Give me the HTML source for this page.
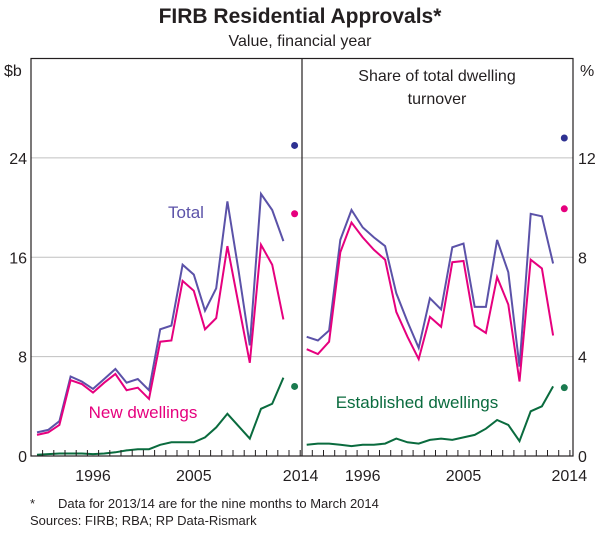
<!DOCTYPE html>
<html><head><meta charset="utf-8"><style>
body{margin:0;background:#fff;font-family:"Liberation Sans",sans-serif}
svg text{font-family:"Liberation Sans",sans-serif}
</style></head><body>
<script>
var years=[1991,1992,1993,1994,1995,1996,1997,1998,1999,2000,2001,2002,2003,2004,2005,2006,2007,2008,2009,2010,2011,2012,2013];
var valTotal=[1.9,2.1,2.8,6.4,6.0,5.4,6.2,7.0,5.9,6.2,5.3,10.2,10.5,15.4,14.6,11.7,13.5,20.5,14.9,8.9,21.1,19.8,17.3];
var valNew=[1.7,1.9,2.5,6.1,5.8,5.1,5.9,6.6,5.3,5.5,4.6,9.2,9.3,14.1,13.3,10.2,11.1,16.9,12.2,7.5,17.0,15.4,11.0];
var valEst=[0.1,0.15,0.2,0.2,0.2,0.15,0.2,0.3,0.45,0.55,0.55,0.9,1.1,1.1,1.1,1.5,2.3,3.4,2.4,1.4,3.8,4.2,6.3];
var shrTotal=[4.8,4.65,5.05,8.7,9.9,9.2,8.8,8.45,6.55,5.4,4.35,6.35,5.9,8.4,8.55,6.0,6.0,8.7,7.4,3.6,9.75,9.65,7.75];
var shrNew=[4.3,4.1,4.6,8.2,9.4,8.8,8.3,7.9,5.8,4.8,3.9,5.6,5.2,7.8,7.85,5.25,4.95,7.2,6.1,3.0,7.9,7.55,4.85];
var shrEst=[0.45,0.5,0.5,0.45,0.4,0.45,0.45,0.5,0.7,0.55,0.5,0.65,0.7,0.65,0.75,0.85,1.1,1.45,1.25,0.6,1.8,2.0,2.8];
var dotYear=2014;
var dotVal={total:25.0,newd:19.5,est:5.6};
var dotShr={total:12.8,newd:9.95,est:2.75};
var leftTicks=[0,8,16,24];
var rightTicks=[0,4,8,12];
var yearLabels=[1996,2005,2014];
</script>
<svg width="600" height="530" xmlns="http://www.w3.org/2000/svg">
<text x="300" y="23" text-anchor="middle" font-size="21" font-weight="bold" fill="#231f20">FIRB Residential Approvals*</text>
<text x="300" y="46" text-anchor="middle" font-size="16" fill="#231f20">Value, financial year</text>
<g id="grid"></g>
<g id="marks"></g>
<rect x="31" y="58.5" width="542" height="397.5" fill="none" stroke="#231f20" stroke-width="1.2"/>
<line x1="302" y1="58.5" x2="302" y2="456" stroke="#231f20" stroke-width="1.2"/>
<text x="4" y="76" font-size="16" fill="#231f20">$b</text>
<text x="580" y="76" font-size="16" fill="#231f20">%</text>
<text x="437" y="81" text-anchor="middle" font-size="16" fill="#231f20">Share of total dwelling</text>
<text x="437" y="104" text-anchor="middle" font-size="16" fill="#231f20">turnover</text>
<text x="186" y="218" text-anchor="middle" font-size="17" fill="#5b52a8">Total</text>
<text x="143" y="418" text-anchor="middle" font-size="17" fill="#e6007e">New dwellings</text>
<text x="417" y="408" text-anchor="middle" font-size="17" fill="#0a6b3e">Established dwellings</text>
<text x="30" y="508" font-size="13" fill="#231f20">*</text>
<text x="58" y="508" font-size="13" fill="#231f20">Data for 2013/14 are for the nine months to March 2014</text>
<text x="30" y="525" font-size="13" fill="#231f20">Sources: FIRB; RBA; RP Data-Rismark</text>
<g id="axes"></g>
</svg>
<script>
var NS="http://www.w3.org/2000/svg";
function xL(y){return 37+(y-1991)*11.2;}
function xR(y){return 306.7+(y-1991)*11.2;}
function yL(v){return 456-v*397.5/32;}
function yR(v){return 456-v*397.5/16;}
function mk(tag,attrs,parent){var e=document.createElementNS(NS,tag);for(var k in attrs)e.setAttribute(k,attrs[k]);document.getElementById(parent).appendChild(e);return e;}
leftTicks.forEach(function(t){if(t===0)return;
 var g=mk('line',{x1:31,x2:573,y1:yL(t),y2:yL(t),stroke:'#c0c0c0','stroke-width':1},'grid');
 
 
});
leftTicks.forEach(function(t){
 var e=mk('text',{x:27,y:yL(t)+6,'text-anchor':'end','font-size':16,fill:'#231f20'},'axes');e.textContent=t;
 
 
});
rightTicks.forEach(function(t){
 var e=mk('text',{x:578,y:yR(t)+6,'font-size':16,fill:'#231f20'},'axes');e.textContent=t;
 
 
});
for(var i=0;i<years.length+1;i++){
 [xL,xR].forEach(function(f){
  var x=f(years[0]+i)+5.6;
  if(x>=572)return;
  var t=mk('line',{x1:x,x2:x,y1:456,y2:450,stroke:'#231f20','stroke-width':1},'axes');
  
  
 });
}
yearLabels.forEach(function(y){
 [[xL,0],[xR,1]].forEach(function(p){
  var e=mk('text',{x:p[0](y)+(y===2014?(p[1]?5:6):0),y:481,'text-anchor':'middle','font-size':16,fill:'#231f20'},'axes');e.textContent=y;
  
  
 });
});
function line(vals,fx,fy,col,name){
 var d=vals.map(function(v,i){return (i?'L':'M')+fx(years[i]).toFixed(1)+','+fy(v).toFixed(1);}).join('');
 var p=mk('path',{d:d,fill:'none',stroke:col,'stroke-width':2,'stroke-linejoin':'miter'},'marks');
 
 
}
function dot(v,fx,fy,col,name){
 var c=mk('circle',{cx:fx(dotYear),cy:fy(v),r:3.5,fill:col},'marks');
 
 
}
line(valTotal,xL,yL,'#5b52a8','total-value-line');
line(valNew,xL,yL,'#e6007e','new-value-line');
line(valEst,xL,yL,'#0a6b3e','established-value-line');
line(shrTotal,xR,yR,'#5b52a8','total-share-line');
line(shrNew,xR,yR,'#e6007e','new-share-line');
line(shrEst,xR,yR,'#0a6b3e','established-share-line');
dot(dotVal.total,xL,yL,'#2e3192','total-value-dot');
dot(dotVal.newd,xL,yL,'#e6007e','new-value-dot');
dot(dotVal.est,xL,yL,'#1a7a4f','established-value-dot');
dot(dotShr.total,xR,yR,'#2e3192','total-share-dot');
dot(dotShr.newd,xR,yR,'#e6007e','new-share-dot');
dot(dotShr.est,xR,yR,'#1a7a4f','established-share-dot');
</script>
</body></html>
